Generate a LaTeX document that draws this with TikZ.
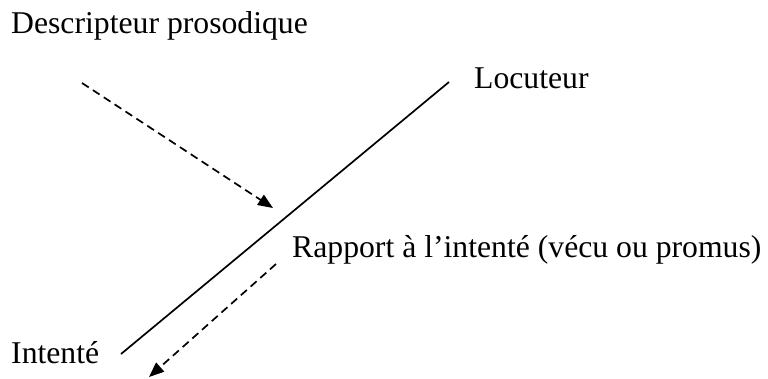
\documentclass[tikz,border=0pt]{standalone}
\usepackage{fontspec}
\setmainfont{Liberation Serif}
\usetikzlibrary{arrows.meta}
\begin{document}
\begin{tikzpicture}[x=1pt,y=-1pt,
  lbl/.style={anchor=base west,inner sep=0pt,font=\fontsize{31.7}{38}\selectfont},
  solidline/.style={line width=1.7pt},
  dasharrow/.style={line width=1.7pt,dash pattern=on 8pt off 5pt,-{Triangle[length=15pt,width=12pt]}}]
\useasboundingbox (0,0) rectangle (768,378);
\node[lbl] (desc) at (11,33) {Descripteur prosodique};
\node[lbl] (loc) at (474,88) {Locuteur};
\node[lbl] (rap) at (292,257) {Rapport à l’intenté (vécu ou promus)};
\node[lbl] (int) at (11,363) {Intenté};
\coordinate (ltop) at (449,82);
\coordinate (lbot) at (121,354);
\coordinate (a1s) at (82,83);
\coordinate (a1e) at (273,208);
\coordinate (a2s) at (276,264);
\coordinate (a2e) at (149,377);
\draw[solidline] (lbot) -- (ltop);
\draw[dasharrow] (a1s) -- (a1e);
\draw[dasharrow] (a2s) -- (a2e);
\end{tikzpicture}
\end{document}
